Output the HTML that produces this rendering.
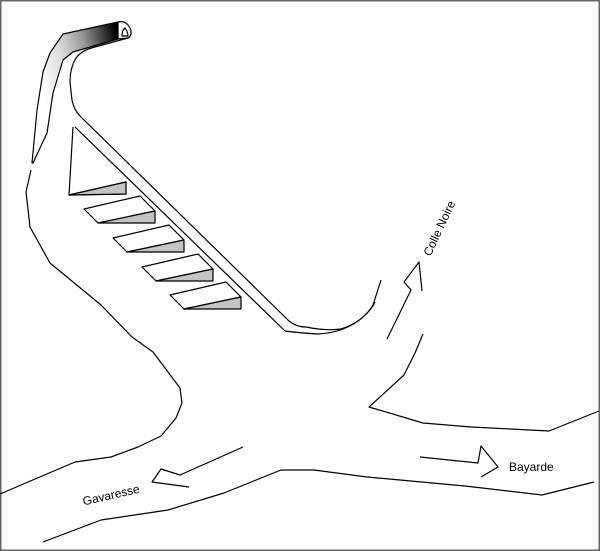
<!DOCTYPE html>
<html><head><meta charset="utf-8"><style>
html,body{margin:0;padding:0;background:#fff}
svg{display:block}
text{font-family:"Liberation Sans",sans-serif;font-size:12px;fill:#000}
</style></head><body>
<svg width="600" height="551" viewBox="0 0 600 551" xmlns="http://www.w3.org/2000/svg">
<defs>
<linearGradient id="g" gradientUnits="userSpaceOnUse" x1="35" y1="60" x2="118" y2="40">
<stop offset="0" stop-color="#fff"/><stop offset="0.3" stop-color="#ddd"/><stop offset="0.6" stop-color="#999"/><stop offset="1" stop-color="#000"/>
</linearGradient>
</defs>
<rect x="0.75" y="0.75" width="598.5" height="549.5" fill="#fff" stroke="#666" stroke-width="1.5"/>
<g fill="none" stroke="#000" stroke-width="1.2" stroke-linejoin="round">
<path d="M32,163 L37,110 L43,72 L50,53 L63,34 L118,22 L118,39 L73,52 L63,60 L53,93 L47,133 L33,163 Z" fill="url(#g)"/>
<path d="M118,22 Q126,20 130,28 Q133,35 128,38 L118,39"/>
<path d="M122,36 Q122,30 125,28 Q128,32 128,36 Z"/>
<path d="M128,38 L95,47 Q82,50 76,58 Q70,68 70,82 L72,100 Q74,110 80,116 L289,321 Q296,327 306,327 Q325,331 341,329 Q363,322 373,305 L381,280"/>
<path d="M75,127 L285,331 Q300,333 318,334 Q333,333 343,329 Q356,324 364,316 Q372,309 375,302"/>
<path d="M31,170 L26,192 L30,227 L50,263 L101,305 L132,337 L153,352 L168,372 L180,388 L182,403 L176,418 L161,436 L138,447 L111,457 L75,462 L0,494"/>
<path d="M43,542 L101,520 L168,510 L224,493 L281,470 L314,470 L367,477 L465,486 L542,495 L594,482"/>
<path d="M423,334 L415,353 L404,375 L369,407 L423,423 L471,427 L549,431 L599,411"/>
<path d="M387,339 L411,290 L404,282 L419,262 L422,291"/>
<path d="M243,447 L180,475 L161,469 L152,482 L189,487"/>
<path d="M420,457 L478,463 L481,446 L498,467 L481,477"/>
<path d="M73,127 L69,195 L126,182 L126,194 L69,195"/>
</g>
<g stroke="#000" stroke-width="1.2" stroke-linejoin="round">
<path d="M69,195 L126,182 L126,194 Z" fill="#c4c4c4"/>
<g id="r"><path d="M84,209 L140,196 L155,211 L98,223 Z" fill="#fff"/><path d="M98,223 L155,211 L155,223 Z" fill="#c4c4c4"/></g>
<use href="#r" transform="translate(29,29)"/>
<use href="#r" transform="translate(58,58)"/>
<use href="#r" transform="translate(86,86)"/>
</g>
<text transform="translate(443,230) rotate(-65)" text-anchor="middle">Colle Noire</text>
<text transform="translate(112,499) rotate(-13)" text-anchor="middle">Gavaresse</text>
<text x="509" y="471">Bayarde</text>
</svg>
</body></html>
